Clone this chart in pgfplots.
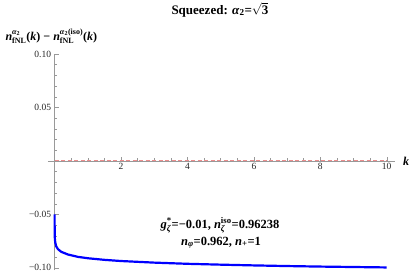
\documentclass[border=0pt]{standalone}
\usepackage{fontspec}
\setmainfont{Liberation Serif}
\usepackage{amsmath}
\usepackage{pgfplots}
\pgfplotsset{compat=1.18}
\definecolor{curveblue}{RGB}{0,0,255}
\definecolor{dashred}{RGB}{236,140,140}
\newcommand\bi[1]{\textbf{\textit{#1}}}
\begin{document}
\begin{tikzpicture}
\begin{axis}[
  scale only axis, width=347pt, height=216pt,
  at={(0,0)}, anchor=south west,
  axis lines=middle,
  xmin=-0.2, xmax=10.25, ymin=-0.102, ymax=0.10,
  axis line style={gray!80, line width=0.5pt, -},
  xtick={2,4,6,8,10}, xticklabels={2,4,6,8,10},
  ytick={-0.1,-0.05,0.05,0.1}, yticklabels={−0.10,−0.05,0.05,0.10},
  minor xtick={0.5,1,1.5,2.5,3,3.5,4.5,5,5.5,6.5,7,7.5,8.5,9,9.5},
  minor ytick={-0.09,-0.08,-0.07,-0.06,-0.04,-0.03,-0.02,-0.01,0.01,0.02,0.03,0.04,0.06,0.07,0.08,0.09},
  tick align=inside,
  major tick length=4pt, minor tick length=2.5pt,
  tick style={gray!80, line width=0.4pt},
  ticklabel style={font=\fontsize{9.5}{10}\selectfont, text=black!85},
  xticklabel style={yshift=1pt},
  clip=false,
]
\addplot[dashred, line width=0.9pt, dash pattern=on 4pt off 2.5pt] coordinates {(0,0) (10,0)};
\addplot[curveblue, line width=2.2pt, line join=round] coordinates {
(0,-0.050) (0.00005,-0.058) (0.0005,-0.064) (0.002,-0.068) (0.005,-0.0715) (0.01,-0.074)
(0.02,-0.0765) (0.05,-0.080) (0.1,-0.0825) (0.2,-0.085) (0.4,-0.0875) (0.7,-0.0897)
(1,-0.091) (1.5,-0.0925) (2,-0.0936) (3,-0.0951) (4,-0.0962) (5,-0.0970) (6,-0.0977)
(7,-0.0983) (8,-0.0988) (9,-0.0992) (10,-0.0996)};
\end{axis}
\node[font=\fontsize{12}{12}\selectfont\bfseries\itshape] at (358pt,109pt) {k};
\node[font=\fontsize{12.5}{13}\selectfont\bfseries, anchor=base] at (172pt,42pt) {$\bi{g}^{\textbf{*}}_{\bi{ζ}}$=−0.01, $\bi{n}^{\textbf{iso}}_{\bi{ζ}}$=0.96238};
\node[font=\fontsize{12.5}{13}\selectfont\bfseries, anchor=base] at (173pt,25pt) {$\bi{n}_{\bi{φ}}$=0.962, $\bi{n}_{\textbf{+}}$=1};
\node[font=\fontsize{13}{13}\selectfont\bfseries, anchor=base] at (172pt,256pt) {Squeezed: $\bi{α}_{\textbf{2}}$=$\sqrt{\textbf{3}}$};
\node[font=\fontsize{12}{12}\selectfont\bfseries, anchor=base west] at (-46pt,230pt) {$\bi{n}^{\bi{α}_{\textbf{2}}}_{\textbf{fNL}}$(\bi{k}) − $\bi{n}^{\bi{α}_{\textbf{2}}\textbf{(iso)}}_{\textbf{fNL}}$(\bi{k})};
\pgfresetboundingbox
\useasboundingbox (-48pt,-4pt) rectangle (363pt,270pt);
\end{tikzpicture}
\end{document}
